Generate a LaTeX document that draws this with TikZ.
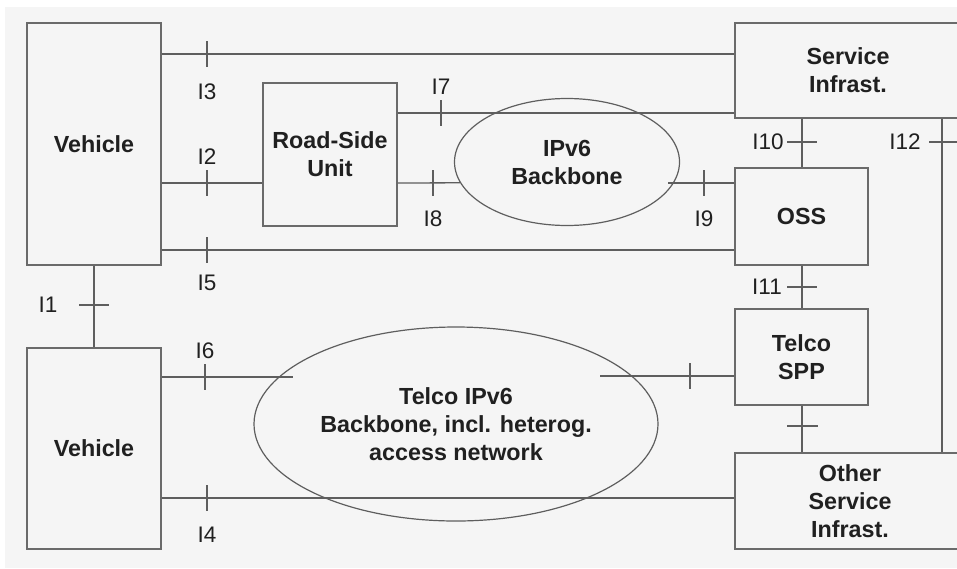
\documentclass[tikz,border=0pt]{standalone}
\usepackage{fontspec}
\setmainfont{Liberation Sans}
\usetikzlibrary{shapes.geometric}
\definecolor{bg}{HTML}{F5F5F5}
\definecolor{ln}{HTML}{5E5E5E}
\definecolor{bx}{HTML}{6A6A6A}
\definecolor{tx}{HTML}{202020}
\begin{document}
\begin{tikzpicture}[x=1pt,y=-1pt,
  box/.style={draw=bx, line width=1.6pt, rectangle, inner sep=0pt, text=tx,
    font=\fontsize{23.3}{28}\selectfont\bfseries, align=center},
  oval/.style={draw=ln, line width=1.2pt, ellipse, inner sep=0pt, text=tx,
    font=\fontsize{23.3}{28}\selectfont\bfseries, align=center},
  conn/.style={draw=ln, line width=1.3pt},
  tick/.style={draw=ln, line width=1.3pt},
  lbl/.style={text=tx, inner sep=0pt, font=\fontsize{22.5}{26}\selectfont}]
\useasboundingbox (0,0) rectangle (957,568);
\clip (0,0) rectangle (957,568);
\fill[white] (0,0) rectangle (957,568);
\fill[bg] (5,7) rectangle (957,568);

% boxes
\node[box, minimum width=134pt, minimum height=242pt] (v1) at (94,144) {Vehicle};
\node[box, minimum width=134pt, minimum height=143pt] (rsu) at (330,154.5) {Road-Side\\Unit};
\node[box, minimum width=226pt, minimum height=95pt] (si) at (848,70.5) {Service\\Infrast.};
\node[box, minimum width=133pt, minimum height=97pt] (oss) at (801.5,216.5) {OSS};
\node[box, minimum width=133pt, minimum height=96pt] (spp) at (801.5,357) {Telco\\SPP};
\node[box, minimum width=230pt, minimum height=96pt] (osi) at (850,501) {Other\\Service\\Infrast.};
\node[box, minimum width=134pt, minimum height=201pt] (v2) at (94,448.5) {Vehicle};

% ellipses
\node[oval, minimum width=225pt, minimum height=127pt] (ipv6) at (567,162) {IPv6\\Backbone};
\node[oval, minimum width=404pt, minimum height=194pt] (tel) at (456,424) {Telco IPv6\\Backbone, incl. heterog.\\access network};

% tick coordinates
\coordinate (t3) at (207,54);
\coordinate (t2) at (207,183);
\coordinate (t5) at (207,250);
\coordinate (t7) at (441,113);
\coordinate (t8) at (433,183);
\coordinate (t9) at (704,183);
\coordinate (t10) at (802,142);
\coordinate (t11) at (802,287);
\coordinate (t12) at (942,142);
\coordinate (t1) at (94,305);
\coordinate (t6) at (205,377);
\coordinate (t4) at (207,498);
\coordinate (tsp) at (690,376);
\coordinate (tso) at (802,426);
\coordinate (e6) at (293,377);
\coordinate (esp) at (600,376);
\coordinate (e9) at (668,183);

% connectors
\draw[conn] (v1.east |- t3) -- (si.west |- t3);
\draw[conn] (v1.east |- t2) -- (rsu.west |- t2);
\draw[conn] (v1.east |- t5) -- (oss.west |- t5);
\draw[conn] (rsu.east |- t7) -- (si.west |- t7);
\draw[conn] (rsu.east |- t8) -- (ipv6.191);
\draw[conn] (e9) -- (oss.west |- e9);
\draw[conn] (si.south -| t10) -- (oss.north -| t10);
\draw[conn] (oss.south -| t11) -- (spp.north -| t11);
\draw[conn] (si.south -| t12) -- (osi.north -| t12);
\draw[conn] (v1.south) -- (v2.north);
\draw[conn] (v2.east |- t6) -- (e6);
\draw[conn] (esp) -- (spp.west |- esp);
\draw[conn] (spp.south -| tso) -- (osi.north -| tso);
\draw[conn] (v2.east |- t4) -- (osi.west |- t4);

% ticks
\foreach \t in {t3,t2,t5,t7,t8,t9,t6,t4,tsp}
  \draw[tick] (\t) ++(0,-13) -- ++(0,26);
\foreach \t in {t10,t11,t1}
  \draw[tick] (\t) ++(-15,0) -- ++(30,0);
\draw[tick] (tso) ++(-15,0) -- ++(31,0);
\draw[tick] (t12) ++(-13,0) -- ++(30,0);

% labels
\node[lbl] (l3) at (207,92) {I3};
\node[lbl] (l2) at (207,157) {I2};
\node[lbl] (l7) at (441,87) {I7};
\node[lbl] (l8) at (433,219) {I8};
\node[lbl] (l5) at (207,283) {I5};
\node[lbl] (l9) at (704,219) {I9};
\node[lbl] (l10) at (768,142) {I10};
\node[lbl] (l12) at (905,142) {I12};
\node[lbl] (l11) at (767,287) {I11};
\node[lbl] (l1) at (48,305) {I1};
\node[lbl] (l6) at (205,351) {I6};
\node[lbl] (l4) at (207,535) {I4};
\end{tikzpicture}
\end{document}
